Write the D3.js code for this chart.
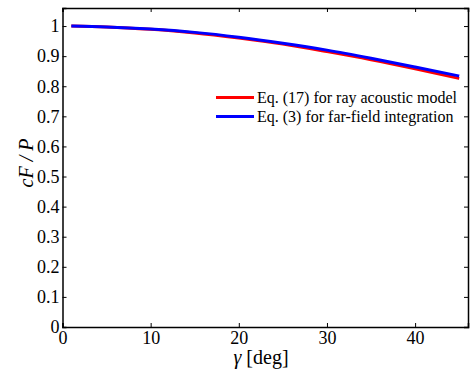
<!DOCTYPE html>
<html>
<head>
<meta charset="utf-8">
<script src="https://cdn.jsdelivr.net/npm/d3@7"></script>
<style>
  body { margin: 0; background: #fff; }
  text { font-family: "Liberation Serif", "Times New Roman", serif; fill: #000; }
</style>
</head>
<body>
<div id="chart"></div>
<script>
// gamma in degrees
const gamma = [1, 5, 10, 15, 20, 25, 30, 35, 40, 45];
// Eq. (17) ray acoustic model
const rayModel = [1.0, 0.997, 0.989, 0.977, 0.960, 0.940, 0.915, 0.888, 0.858, 0.826];
// Eq. (3) far-field integration
const farField = [1.0, 0.997, 0.990, 0.979, 0.963, 0.943, 0.920, 0.893, 0.864, 0.834];
const xTicks = [0, 10, 20, 30, 40];
const yTicks = [0, 0.1, 0.2, 0.3, 0.4, 0.5, 0.6, 0.7, 0.8, 0.9, 1];

const width = 474, height = 374;
const margin = { top: 8, right: 6, bottom: 47, left: 62.5 };

const svg = d3.select('#chart').append('svg')
  .attr('width', width)
  .attr('height', height);

const x = d3.scaleLinear().domain([0, 46]).range([margin.left, width - margin.right]);
const y = d3.scaleLinear().domain([0, 1.06]).range([height - margin.bottom, margin.top]);

// axes with inward ticks on all sides
const fmt = d => d3.format('~g')(d);
svg.append('g')
  .attr('transform', 'translate(0,' + (height - margin.bottom) + ')')
  .call(d3.axisBottom(x).tickValues(xTicks).tickSize(-4).tickPadding(4).tickFormat(fmt));
svg.append('g')
  .attr('transform', 'translate(0,' + margin.top + ')')
  .call(d3.axisTop(x).tickValues(xTicks).tickSize(-4).tickFormat(''));
svg.append('g')
  .attr('transform', 'translate(' + margin.left + ',0)')
  .call(d3.axisLeft(y).tickValues(yTicks).tickSize(-4).tickPadding(3).tickFormat(fmt));
svg.append('g')
  .attr('transform', 'translate(' + (width - margin.right) + ',0)')
  .call(d3.axisRight(y).tickValues(yTicks).tickSize(-4).tickFormat(''));

svg.selectAll('.domain').attr('stroke', '#000').attr('stroke-width', 1.5);
svg.selectAll('.tick line').attr('stroke', '#000').attr('stroke-width', 1);
svg.selectAll('g').attr('font-family', '"Liberation Serif", serif');
svg.selectAll('.tick text').style('font-size', '18px');

// curves
const line = d3.line()
  .x((d, i) => x(gamma[i]))
  .y(d => y(d))
  .curve(d3.curveMonotoneX);

svg.append('path').datum(rayModel)
  .attr('fill', 'none').attr('stroke', '#ff0000').attr('stroke-width', 3)
  .attr('d', line);
svg.append('path').datum(farField)
  .attr('fill', 'none').attr('stroke', '#0000ff').attr('stroke-width', 3)
  .attr('d', line);

// legend
const legend = [
  { label: 'Eq. (17) for ray acoustic model', color: '#ff0000', y: 97.5 },
  { label: 'Eq. (3) for far-field integration', color: '#0000ff', y: 116.5 }
];
legend.forEach(l => {
  svg.append('line')
    .attr('x1', 216).attr('x2', 254)
    .attr('y1', l.y).attr('y2', l.y)
    .attr('stroke', l.color).attr('stroke-width', 3);
  svg.append('text')
    .attr('x', 257).attr('y', l.y + 5.5)
    .style('font-size', '16px')
    .text(l.label);
});

// axis labels
const xl = svg.append('text')
  .attr('x', 261).attr('y', 364)
  .attr('text-anchor', 'middle')
  .style('font-size', '20px');
xl.append('tspan').style('font-style', 'italic').text('γ');
xl.append('tspan').text(' [deg]');

svg.append('text')
  .attr('transform', 'translate(33,163) rotate(-90)')
  .attr('text-anchor', 'middle')
  .style('font-size', '20px')
  .style('font-style', 'italic')
  .text('cF / P');
</script>
</body>
</html>
